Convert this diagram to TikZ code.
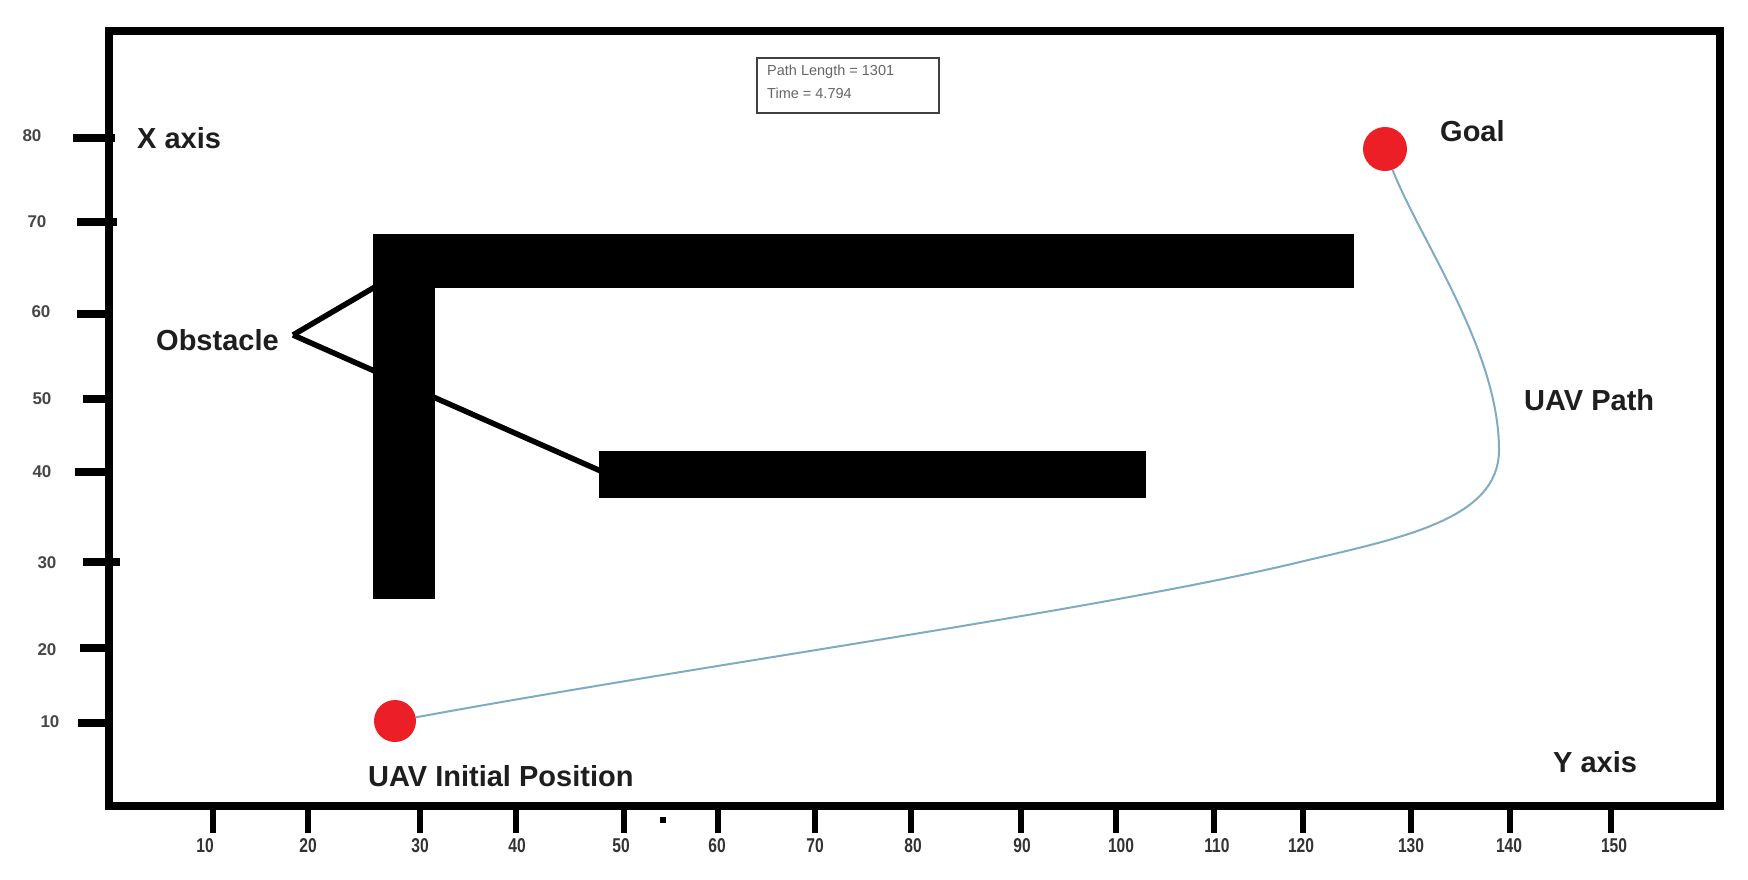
\documentclass[tikz,border=0pt]{standalone}
\usepackage{fontspec}
\setmainfont{Liberation Sans}
\definecolor{dotred}{RGB}{236,30,38}
\definecolor{pathblue}{RGB}{128,172,192}
\definecolor{txt}{RGB}{30,30,30}
\begin{document}
\begin{tikzpicture}[x=1pt,y=-1pt,
  lbl/.style={font=\fontsize{29}{34}\selectfont\bfseries, text=txt, inner sep=0pt, anchor=west},
  ylab/.style={font=\fontsize{17}{20}\selectfont\bfseries, text=black!72, inner sep=0pt},
  xlab/.style={font=\fontsize{20}{22}\selectfont\bfseries, text=black!80, inner sep=0pt, xscale=0.78},
  tickln/.style={line width=7.5pt},
  bar/.style={fill=black, draw=none, inner sep=0pt, rectangle},
  dotnode/.style={circle, fill=dotred, draw=none, inner sep=0pt},
  pointer/.style={line width=5.5pt}
]
\useasboundingbox (0,0) rectangle (1748,879);
\fill[white] (0,0) rectangle (1748,879);

% obstacle label and pointer lines (under the bars)
\node[lbl] (obs) at (156,340) {Obstacle};
\coordinate (tip) at (293,335);
\coordinate (p1) at (380,284);
\coordinate (p2) at (603,472);
\draw[pointer] (tip) -- (p1);
\draw[pointer] (tip) -- (p2);

% obstacles
\node[bar, minimum width=62pt, minimum height=365pt] (vbar) at (404,416.5) {};
\node[bar, minimum width=981pt, minimum height=54pt] (tbar) at (863.5,261) {};
\node[bar, minimum width=547pt, minimum height=47pt] (lbar) at (872.5,474.5) {};

% frame
\draw[line width=8pt, line join=miter] (109,31) rectangle (1720,806);

% left ticks
\draw[tickln] (73,138) -- (115,138);
\draw[tickln] (77,222) -- (117,222);
\draw[tickln] (77,314) -- (108,314);
\draw[tickln] (83,399) -- (108,399);
\draw[tickln] (75,472) -- (108,472);
\draw[tickln] (83,562) -- (120,562);
\draw[tickln] (80,648) -- (108,648);
\draw[tickln] (78,723) -- (108,723);
\node[ylab] (l80) at (32,136) {80};
\node[ylab] (l70) at (37,222) {70};
\node[ylab] (l60) at (41,312) {60};
\node[ylab] (l50) at (42,399) {50};
\node[ylab] (l40) at (42,472) {40};
\node[ylab] (l30) at (47,563) {30};
\node[ylab] (l20) at (47,650) {20};
\node[ylab] (l10) at (50,722) {10};

% bottom ticks
\foreach \tx in {213,308,420,516,624,718,815,911,1021,1116,1214,1303,1411,1510,1611}
  \draw[line width=6.5pt] (\tx,808) -- (\tx,833);
\foreach \lx/\lt in {205/10,308/20,420/30,517/40,621/50,717/60,815/70,913/80,1022/90,1121/100,1217/110,1301/120,1411/130,1509/140,1614/150}
  \node[xlab] at (\lx,846) {\lt};
\fill (660,817) rectangle (666,823);

% info box
\node[draw=black!75, line width=2.5pt, minimum width=182pt, minimum height=55pt, inner sep=0pt] (info) at (848,85.5) {};
\node[font=\fontsize{14.5}{16}\selectfont, text=black!60, inner sep=0pt, anchor=west] (pl) at (767,72) {Path Length = 1301};
\node[font=\fontsize{14.5}{16}\selectfont, text=black!60, inner sep=0pt, anchor=west] (tm) at (767,93) {Time = 4.794};

% points
\node[dotnode, minimum size=42pt] (init) at (395,721) {};
\node[dotnode, minimum size=44pt] (goal) at (1385,149) {};

% UAV path
\coordinate (bend) at (1300,562);
\coordinate (far) at (1499,450);
\draw[pathblue, line width=2pt] (init.10)
  .. controls (700,665) and (1100,610) .. (bend)
  .. controls (1400,538) and (1499,520) .. (far)
  .. controls (1499,350) and (1420,240) .. (goal.-70);

% labels
\node[lbl] (xax) at (137,138) {X axis};
\node[lbl] (goallbl) at (1440,131) {Goal};
\node[lbl] (pathlbl) at (1524,400) {UAV Path};
\node[lbl] (initlbl) at (368,776) {UAV Initial Position};
\node[lbl] (yax) at (1553,762) {Y axis};
\end{tikzpicture}
\end{document}
